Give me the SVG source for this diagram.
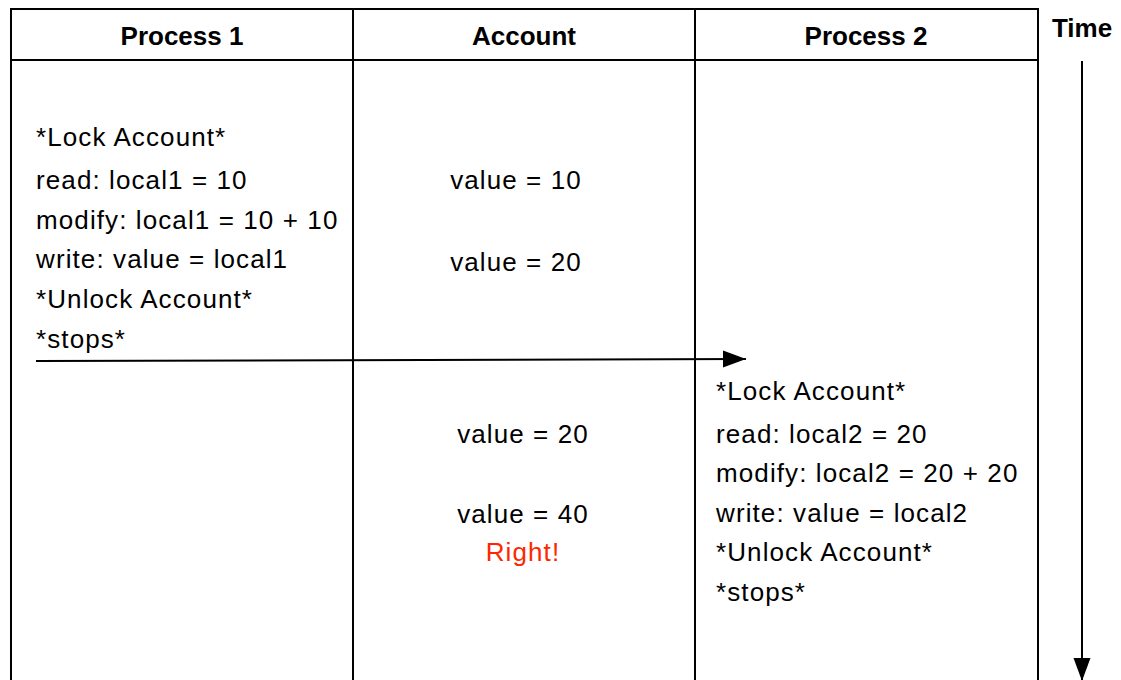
<svg xmlns="http://www.w3.org/2000/svg" width="1121" height="680" viewBox="0 0 1121 680">
<style>
.ln{stroke:#000;stroke-width:2;fill:none}
.h{font-family:"Liberation Sans",Arial,sans-serif;font-weight:bold;font-size:26px;fill:#000;text-anchor:middle}
.t{font-family:"Liberation Sans",Arial,sans-serif;font-size:26px;letter-spacing:1.1px;fill:#000}
.c{text-anchor:middle}
.r{fill:#ff2600}
</style>
<defs>
<marker id="ah" markerWidth="24" markerHeight="18" refX="23" refY="9" orient="auto" markerUnits="userSpaceOnUse">
<path d="M0,0.5 L23,9 L0,17.5 Z" fill="#000"/>
</marker>
</defs>
<rect width="1121" height="680" fill="#fff"/>
<g id="table">
<path class="ln" d="M11,700 V9 H1038 V700 M11,60 H1038 M353,9 V700 M695,9 V700"/>
<text class="h" x="182" y="45">Process 1</text>
<text class="h" x="524" y="45">Account</text>
<text class="h" x="866" y="45">Process 2</text>
</g>
<g id="time">
<text class="h" x="1082" y="37">Time</text>
</g>
<g id="process1">
<text class="t" x="36" y="146">*Lock Account*</text>
<text class="t" x="36" y="189">read: local1 = 10</text>
<text class="t" x="36" y="229">modify: local1 = 10 + 10</text>
<text class="t" x="36" y="268">write: value = local1</text>
<text class="t" x="36" y="308">*Unlock Account*</text>
<text class="t" x="36" y="348">*stops*</text>
</g>
<g id="account">
<text class="t c" x="516" y="189">value = 10</text>
<text class="t c" x="516" y="271">value = 20</text>
<text class="t c" x="523" y="443">value = 20</text>
<text class="t c" x="523" y="523">value = 40</text>
<text class="t c r" x="523" y="561">Right!</text>
</g>
<g id="process2">
<text class="t" x="716" y="400">*Lock Account*</text>
<text class="t" x="716" y="443">read: local2 = 20</text>
<text class="t" x="716" y="482">modify: local2 = 20 + 20</text>
<text class="t" x="716" y="522">write: value = local2</text>
<text class="t" x="716" y="561">*Unlock Account*</text>
<text class="t" x="716" y="601">*stops*</text>
</g>
<g id="connectors">
<line class="ln" x1="36" y1="361" x2="746" y2="359" marker-end="url(#ah)"/>
<line class="ln" x1="1082" y1="61" x2="1082" y2="681" marker-end="url(#ah)"/>
</g>
</svg>
